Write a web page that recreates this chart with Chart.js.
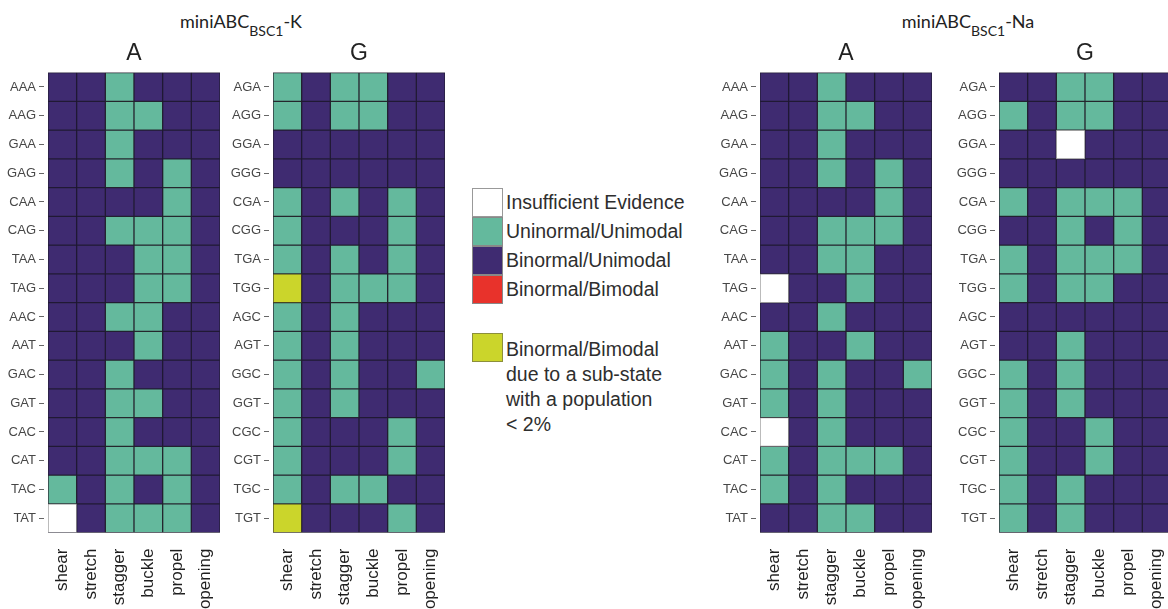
<!DOCTYPE html>
<html>

<head>
  <title>miniABC BSC1 conformational states</title>
  <meta charset="UTF-8">
  <script src="https://cdn.jsdelivr.net/npm/chart.js@4.4.1/dist/chart.umd.min.js"></script>
  <style>
    body { margin: 0; width: 1168px; height: 609px; position: relative; overflow: hidden; background: #fff; font-family: "Liberation Sans", Arial, sans-serif; }
    .panel { position: absolute; top: 33px; width: 219px; height: 576px; }
    .group { position: absolute; top: 10px; font-family: Lato, "Open Sans", sans-serif; font-size: 18px; color: #222; transform: translateX(-50%); white-space: nowrap; }
    .group sub { font-size: 14px; vertical-align: -8px; line-height: 0; }
    #legend { position: absolute; left: 472px; top: 188px; color: #2e2e2e; font-size: 19.5px; }
    .item { display: flex; align-items: flex-start; }
    .sw { width: 31px; height: 29px; box-sizing: border-box; border: 1px solid #999; margin-right: 3px; flex: none; }
    .lab { line-height: 29px; }
    .multi { line-height: 25px; margin-top: 4px; }
  </style>
</head>

<body>
  <div class="group" style="left:241px">miniABC<sub>BSC1</sub>-K</div>
  <div class="group" style="left:968px">miniABC<sub>BSC1</sub>-Na</div>
  <div class="panel" style="left:2px"><canvas id="kA"></canvas></div>
  <div class="panel" style="left:227px"><canvas id="kG"></canvas></div>
  <div class="panel" style="left:714px"><canvas id="naA"></canvas></div>
  <div class="panel" style="left:953px"><canvas id="naG"></canvas></div>
  <div id="legend"></div>
  <script>
    var params = ["shear", "stretch", "stagger", "buckle", "propel", "opening"];
    var rowsA = ["AAA", "AAG", "GAA", "GAG", "CAA", "CAG", "TAA", "TAG", "AAC", "AAT", "GAC", "GAT", "CAC", "CAT", "TAC", "TAT"];
    var rowsG = ["AGA", "AGG", "GGA", "GGG", "CGA", "CGG", "TGA", "TGG", "AGC", "AGT", "GGC", "GGT", "CGC", "CGT", "TGC", "TGT"];

    // 0 insufficient, 1 uninormal/unimodal, 2 binormal/unimodal, 3 binormal/bimodal, 4 bimodal from small sub-state
    var states = ["Insufficient Evidence", "Uninormal/Unimodal", "Binormal/Unimodal", "Binormal/Bimodal",
      "Binormal/Bimodal\ndue to a sub-state\nwith a population\n< 2%"];

    var kA = [
      [2, 2, 1, 2, 2, 2], [2, 2, 1, 1, 2, 2], [2, 2, 1, 2, 2, 2], [2, 2, 1, 2, 1, 2],
      [2, 2, 2, 2, 1, 2], [2, 2, 1, 1, 1, 2], [2, 2, 2, 1, 1, 2], [2, 2, 2, 1, 1, 2],
      [2, 2, 1, 1, 2, 2], [2, 2, 2, 1, 2, 2], [2, 2, 1, 2, 2, 2], [2, 2, 1, 1, 2, 2],
      [2, 2, 1, 2, 2, 2], [2, 2, 1, 1, 1, 2], [1, 2, 1, 2, 1, 2], [0, 2, 1, 1, 1, 2]
    ];
    var kG = [
      [1, 2, 1, 1, 2, 2], [1, 2, 1, 1, 2, 2], [2, 2, 2, 2, 2, 2], [2, 2, 2, 2, 2, 2],
      [1, 2, 1, 2, 1, 2], [1, 2, 2, 2, 1, 2], [1, 2, 1, 2, 1, 2], [4, 2, 1, 1, 1, 2],
      [1, 2, 1, 2, 2, 2], [1, 2, 1, 2, 2, 2], [1, 2, 1, 2, 2, 1], [1, 2, 1, 2, 2, 2],
      [1, 2, 2, 2, 1, 2], [1, 2, 2, 2, 1, 2], [1, 2, 1, 1, 2, 2], [4, 2, 2, 2, 1, 2]
    ];
    var naA = [
      [2, 2, 1, 2, 2, 2], [2, 2, 1, 1, 2, 2], [2, 2, 1, 2, 2, 2], [2, 2, 1, 2, 1, 2],
      [2, 2, 2, 2, 1, 2], [2, 2, 1, 1, 1, 2], [2, 2, 1, 1, 2, 2], [0, 2, 2, 1, 2, 2],
      [2, 2, 1, 2, 2, 2], [1, 2, 2, 1, 2, 2], [1, 2, 1, 2, 2, 1], [1, 2, 1, 2, 2, 2],
      [0, 2, 1, 2, 2, 2], [1, 2, 1, 1, 1, 2], [1, 2, 1, 2, 2, 2], [2, 2, 1, 1, 2, 2]
    ];
    var naG = [
      [2, 2, 1, 1, 2, 2], [1, 2, 1, 1, 2, 2], [2, 2, 0, 2, 2, 2], [2, 2, 2, 2, 2, 2],
      [1, 2, 1, 1, 1, 2], [2, 2, 1, 2, 1, 2], [1, 2, 1, 1, 1, 2], [1, 2, 1, 1, 2, 2],
      [2, 2, 2, 2, 2, 2], [2, 2, 1, 2, 2, 2], [1, 2, 1, 2, 2, 2], [1, 2, 1, 2, 2, 2],
      [1, 2, 2, 1, 2, 2], [1, 2, 2, 1, 2, 2], [1, 2, 1, 2, 2, 2], [1, 2, 1, 2, 2, 2]
    ];

    var fill = ["#ffffff", "#64b99d", "#3f2b71", "#e8322b", "#cbd52b"];
    var edge = ["#9a9a9a", "rgba(35,40,38,0.55)", "rgba(25,18,45,0.5)", "rgba(35,35,35,0.55)", "rgba(90,90,20,0.6)"];

    // dark backdrop so the seams between cells read as thin dark lines
    var backdrop = {
      id: "backdrop",
      beforeDatasetsDraw: function (chart) {
        var a = chart.chartArea, ctx = chart.ctx;
        ctx.save();
        ctx.fillStyle = "#2d2840";
        ctx.fillRect(a.left, a.top, a.right - a.left, a.bottom - a.top);
        ctx.restore();
      }
    };

    // one stacked dataset per row, each cell is a unit-height segment
    function heatmap(id, title, rows, grid) {
      var datasets = rows.map(function (r, i) {
        return {
          label: r,
          data: params.map(function () { return 1; }),
          backgroundColor: grid[i].map(function (s) { return fill[s]; }),
          borderColor: grid[i].map(function (s) { return edge[s]; }),
          borderWidth: 1,
          borderSkipped: false,
          barPercentage: 1,
          categoryPercentage: 1
        };
      });
      new Chart(document.getElementById(id), {
        type: "bar",
        data: { labels: params, datasets: datasets },
        plugins: [backdrop],
        options: {
          responsive: true,
          maintainAspectRatio: false,
          animation: false,
          events: [],
          layout: { padding: { right: 1 } },
          plugins: {
            legend: { display: false },
            tooltip: { enabled: false },
            title: {
              display: true,
              text: title,
              fullSize: false,
              color: "#222",
              font: { family: "Liberation Sans, Arial", size: 23, weight: "normal" },
              padding: { top: 7, bottom: 5 }
            }
          },
          scales: {
            x: {
              stacked: true,
              offset: true,
              grid: { display: false },
              border: { display: false },
              ticks: {
                minRotation: 90, maxRotation: 90, padding: 8, color: "#1e1e1e",
                font: { family: "Liberation Sans, Arial", size: 17 }
              },
              afterFit: function (axis) {
                axis.height = 76.4;
                // rotated labels sit inside the cells, no side padding needed
                axis.paddingLeft = 0;
                axis.paddingRight = 0;
              }
            },
            y: {
              stacked: true,
              reverse: true,
              min: 0,
              max: rows.length,
              border: { display: false },
              grid: { drawOnChartArea: false, tickLength: 9, tickBorderDash: [5, 4], color: "#666", lineWidth: 1 },
              afterBuildTicks: function (axis) {
                axis.ticks = rows.map(function (r, i) { return { value: i + 0.5 }; });
              },
              ticks: {
                padding: 3, color: "#474747",
                font: { family: "Liberation Sans, Arial", size: 13 },
                callback: function (v) { return rows[Math.floor(v)]; }
              },
              afterFit: function (axis) { axis.width = 46; }
            }
          }
        }
      });
    }

    heatmap("kA", "A", rowsA, kA);
    heatmap("kG", "G", rowsG, kG);
    heatmap("naA", "A", rowsA, naA);
    heatmap("naG", "G", rowsG, naG);

    // legend swatches
    var legend = document.getElementById("legend");
    states.forEach(function (s, i) {
      var item = document.createElement("div");
      item.className = "item";
      if (i == 4) item.style.marginTop = "29px";
      var sw = document.createElement("div");
      sw.className = "sw";
      sw.style.background = fill[i];
      if (i > 0) sw.style.borderColor = i == 4 ? "#8c8f3a" : "#888";
      var lab = document.createElement("div");
      lab.className = i == 4 ? "lab multi" : "lab";
      lab.innerHTML = s.split("\n").join("<br>").replace("< 2%", "&lt; 2%");
      item.appendChild(sw);
      item.appendChild(lab);
      legend.appendChild(item);
    });
  </script>
</body>

</html>
